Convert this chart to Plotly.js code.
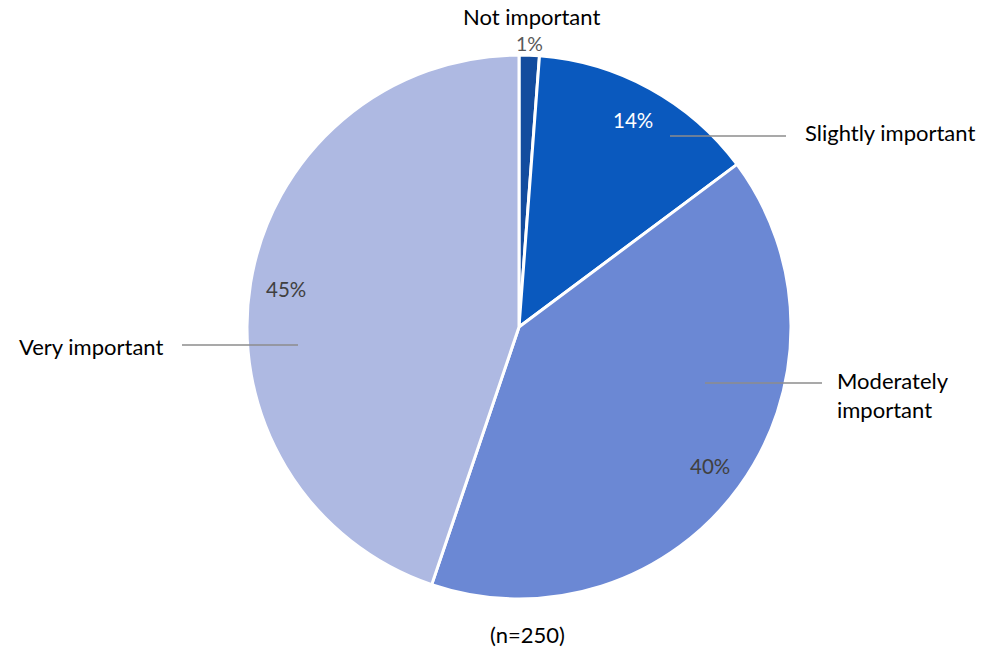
<!DOCTYPE html>
<html>
<head>
<meta charset="utf-8">
<script src="https://cdn.plot.ly/plotly-3.0.1.min.js"></script>
<style>html,body{margin:0;padding:0;background:#fff;}#chart{width:984px;height:649px;}</style>
</head>
<body>
<div id="chart"></div>
<script>
const categories = ["Not important", "Slightly important", "Moderately important", "Very important"];
const counts = [3, 34, 101, 112];
const colors = ["#134C9E", "#0A59BE", "#6B88D4", "#AEB9E2"];
const pctColors = ["#595959", "#FFFFFF", "#404040", "#404040"];
const note = "(n=250)";

const W = 984, H = 649;
const cx = 519, cy = 327, R = 272;
const px = x => x / W;
const py = y => 1 - y / H;

const total = counts.reduce((a, b) => a + b, 0);
const annotations = [];
const shapes = [];
const FONT = "Lato, 'Open Sans', sans-serif";
const LBL = 22, PCT = 20.5;

// percentage labels positioned from slice mid-angles
let cum = 0;
counts.forEach((v, i) => {
  const a0 = cum / total * 2 * Math.PI;
  cum += v;
  const a1 = cum / total * 2 * Math.PI;
  const mid = (a0 + a1) / 2;
  const pct = Math.round(v / total * 100) + "%";
  if (i === 0) {
    annotations.push({x: px(cx + 10), y: py(31), xref: "paper", yref: "paper", text: pct, showarrow: false,
      font: {family: FONT, size: 19.5, color: pctColors[i]}, xanchor: "center", yanchor: "top", borderpad: 0});
  } else {
    const r = 0.87 * R;
    annotations.push({x: px(cx + r * Math.sin(mid)), y: py(cy - r * Math.cos(mid)), xref: "paper", yref: "paper",
      text: pct, showarrow: false, font: {family: FONT, size: PCT, color: pctColors[i]}, xanchor: "center", yanchor: "middle"});
  }
});

// category labels with leader lines
const lbl = (text, x, y, xa, ya) => annotations.push({x: px(x), y: py(y), xref: "paper", yref: "paper", text: text,
  showarrow: false, font: {family: FONT, size: LBL, color: "#000000"}, xanchor: xa, yanchor: ya || "middle", align: "left", borderpad: 0});
lbl(categories[0], 531, 31, "center", "bottom");
lbl(categories[1], 804, 133, "left");
lbl("Moderately<br>important", 836, 395, "left");
lbl(categories[3], 164, 346, "right");
annotations.push({x: px(527), y: py(634), xref: "paper", yref: "paper", text: note, showarrow: false,
  font: {family: FONT, size: LBL, color: "#000000"}, xanchor: "center", yanchor: "middle"});

const line = (x0, y0, x1, y1) => shapes.push({type: "line", xref: "paper", yref: "paper",
  x0: px(x0), y0: py(y0), x1: px(x1), y1: py(y1), line: {color: "#8C8C8C", width: 1.3}, layer: "above"});
line(670, 136, 786, 136);
line(705, 383, 822, 383);
line(182, 345, 298, 345);

const trace = {
  type: "pie",
  labels: categories,
  values: counts,
  sort: false,
  direction: "clockwise",
  rotation: 0,
  textinfo: "none",
  hoverinfo: "label+percent",
  marker: {colors: colors, line: {color: "#FFFFFF", width: 3}},
  domain: {x: [px(cx - R), px(cx + R)], y: [py(cy + R), py(cy - R)]},
  showlegend: false
};

Plotly.newPlot("chart", [trace], {
  width: W, height: H,
  margin: {l: 0, r: 0, t: 0, b: 0},
  paper_bgcolor: "#FFFFFF",
  showlegend: false,
  annotations: annotations,
  shapes: shapes
}, {displayModeBar: false, staticPlot: true});
</script>
</body>
</html>
